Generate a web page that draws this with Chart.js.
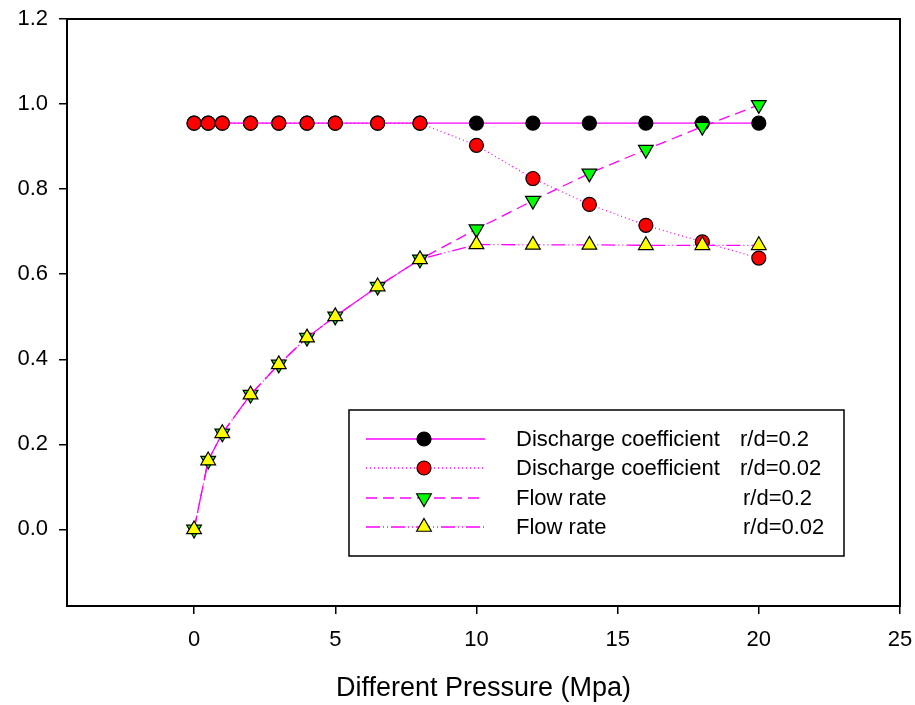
<!DOCTYPE html>
<html>
<head>
<meta charset="utf-8">
<script src="https://cdn.jsdelivr.net/npm/chart.js@4.4.1/dist/chart.umd.min.js"></script>
<style>
  html, body { margin: 0; padding: 0; background: #fff; }
  #wrap { width: 915px; height: 705px; }
</style>
</head>
<body>
<div id="wrap"><canvas id="chart" width="915" height="705"></canvas></div>
<script>
// data
const pressure = [0, 0.5, 1, 2, 3, 4, 5, 6.5, 8, 10, 12, 14, 16, 18, 20];
const cdRd02 = [0.955, 0.955, 0.955, 0.955, 0.955, 0.955, 0.955, 0.955, 0.955, 0.955, 0.955, 0.955, 0.955, 0.955, 0.955];
const cdRd002 = [0.955, 0.955, 0.955, 0.955, 0.955, 0.955, 0.955, 0.955, 0.955, 0.903, 0.825, 0.764, 0.715, 0.676, 0.638];
const flowRd02 = [0, 0.162, 0.226, 0.317, 0.388, 0.451, 0.501, 0.571, 0.635, 0.706, 0.773, 0.837, 0.893, 0.947, 0.998];
const flowRd002 = [0, 0.162, 0.226, 0.317, 0.388, 0.451, 0.501, 0.571, 0.635, 0.670, 0.669, 0.669, 0.668, 0.668, 0.668];

const xTicks = [0, 5, 10, 15, 20, 25];
const yTicks = [0, 0.2, 0.4, 0.6, 0.8, 1.0, 1.2];

const legendNames = ['Discharge coefficient', 'Discharge coefficient', 'Flow rate', 'Flow rate'];
const legendRd = ['r/d=0.2', 'r/d=0.02', 'r/d=0.2', 'r/d=0.02'];

const FONT = "'Liberation Sans', Arial, sans-serif";
const MAGENTA = '#ff00ff';

const toPoints = (ys) => pressure.map((x, i) => ({ x: x, y: ys[i] }));

// line / marker looks, same order as the legend
const looks = [
  { dash: [], fill: '#000000', shape: 'circle', rot: 0, r: 7 },
  { dash: [1, 3], fill: '#ff0000', shape: 'circle', rot: 0, r: 7 },
  { dash: [11, 6], fill: '#00ff00', shape: 'triangle', rot: 180, r: 8.5 },
  { dash: [14, 3, 1, 3, 1, 3], fill: '#ffff00', shape: 'triangle', rot: 0, r: 8.5 },
];
const series = [cdRd02, cdRd002, flowRd02, flowRd002];

const datasets = series.map((ys, i) => ({
  label: legendNames[i] + ' ' + legendRd[i],
  data: toPoints(ys),
  borderColor: MAGENTA,
  borderWidth: 1.3,
  borderDash: looks[i].dash,
  pointStyle: looks[i].shape,
  pointRotation: looks[i].rot,
  pointRadius: looks[i].r,
  pointBackgroundColor: looks[i].fill,
  pointBorderColor: '#000',
  pointBorderWidth: 1.2,
  tension: 0,
  order: 4 - i, // later series on top
}));

function drawMarker(ctx, look, x, y) {
  ctx.save();
  ctx.fillStyle = look.fill;
  ctx.strokeStyle = '#000';
  ctx.lineWidth = 1.2;
  ctx.setLineDash([]);
  ctx.beginPath();
  if (look.shape === 'circle') {
    ctx.arc(x, y, look.r, 0, Math.PI * 2);
  } else {
    let a = look.rot * Math.PI / 180;
    for (let k = 0; k < 3; k++) {
      const px = x + Math.sin(a) * look.r;
      const py = y - Math.cos(a) * look.r;
      if (k === 0) ctx.moveTo(px, py); else ctx.lineTo(px, py);
      a += Math.PI * 2 / 3;
    }
    ctx.closePath();
  }
  ctx.fill();
  ctx.stroke();
  ctx.restore();
}

// frame round the plot + legend box inside it
const framePlugin = {
  id: 'frameAndLegend',
  afterDraw(chart) {
    const ctx = chart.ctx;
    const a = chart.chartArea;
    ctx.save();
    ctx.strokeStyle = '#000';
    ctx.lineWidth = 2;
    ctx.strokeRect(a.left, a.top, a.right - a.left, a.bottom - a.top);

    // legend
    const bx = 349, by = 410, bw = 495, bh = 146;
    ctx.fillStyle = '#fff';
    ctx.fillRect(bx, by, bw, bh);
    ctx.lineWidth = 1.5;
    ctx.strokeRect(bx, by, bw, bh);

    const rowsY = [439, 468, 498, 527];
    const rdX = [740, 740, 743, 743];
    ctx.font = '22px ' + FONT;
    ctx.textBaseline = 'middle';
    for (let i = 0; i < 4; i++) {
      const y = rowsY[i];
      ctx.strokeStyle = MAGENTA;
      ctx.lineWidth = 1.3;
      ctx.setLineDash(looks[i].dash);
      ctx.beginPath();
      ctx.moveTo(366, y);
      ctx.lineTo(485, y);
      ctx.stroke();
      ctx.setLineDash([]);
      drawMarker(ctx, looks[i], 424, y);
      ctx.fillStyle = '#000';
      ctx.textAlign = 'left';
      ctx.fillText(legendNames[i], 516, y + 1);
      ctx.fillText(legendRd[i], rdX[i], y + 1);
    }
    ctx.restore();
  }
};

const tickGrid = {
  display: true,
  drawOnChartArea: false,
  drawTicks: true,
  tickLength: 8,
  color: '#000',
  lineWidth: 1.5,
};

new Chart(document.getElementById('chart'), {
  type: 'line',
  data: { datasets: datasets },
  options: {
    responsive: false,
    animation: false,
    devicePixelRatio: 1,
    layout: { padding: { top: 19, right: 15, left: 0, bottom: 0 } },
    plugins: {
      legend: { display: false },
      tooltip: { enabled: false },
    },
    scales: {
      x: {
        type: 'linear',
        position: 'bottom',
        min: -4.5,
        max: 25,
        afterBuildTicks: (s) => { s.ticks = xTicks.map(v => ({ value: v })); },
        afterFit: (s) => {
          s.height = 99;
          s.paddingLeft = 0;
          s.paddingRight = 0;
        },
        grid: tickGrid,
        border: { display: true, color: '#000', width: 2 },
        ticks: {
          color: '#000',
          font: { family: FONT, size: 22 },
          padding: 13,
          maxRotation: 0,
          callback: (v) => String(v),
        },
        title: {
          display: true,
          text: 'Different Pressure (Mpa)',
          color: '#000',
          font: { family: FONT, size: 27 },
          padding: { top: 0, bottom: 0 },
        },
      },
      y: {
        type: 'linear',
        min: -0.18,
        max: 1.2,
        afterBuildTicks: (s) => { s.ticks = yTicks.map(v => ({ value: v })); },
        afterFit: (s) => {
          s.width = 67;
          s.paddingTop = 0;
          s.paddingBottom = 0;
        },
        grid: tickGrid,
        border: { display: true, color: '#000', width: 2 },
        ticks: {
          color: '#000',
          font: { family: FONT, size: 22 },
          padding: 11,
          callback: (v) => Number(v).toFixed(1),
        },
      },
    },
  },
  plugins: [framePlugin],
});
</script>
</body>
</html>
